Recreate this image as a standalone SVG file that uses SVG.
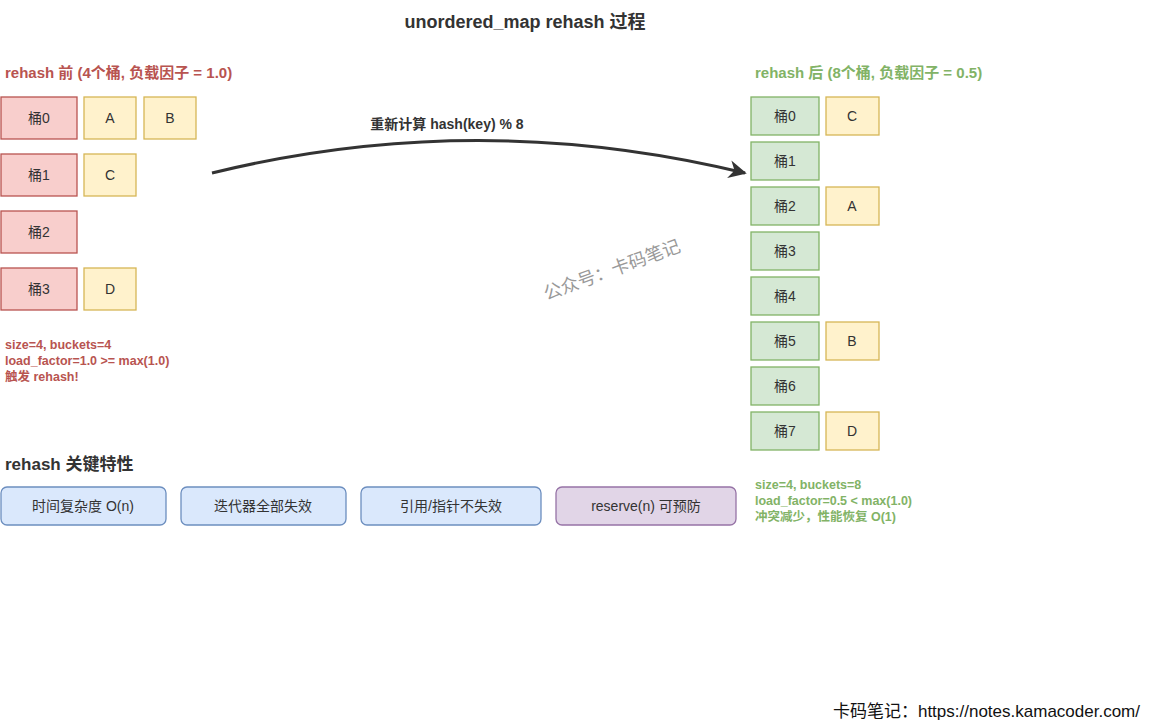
<svg xmlns="http://www.w3.org/2000/svg" width="1174" height="722" viewBox="0 0 1174 722">
<style>
text{font-family:"Liberation Sans","Noto Sans CJK SC",sans-serif;}
.r rect{fill:#f8cecc;stroke:#b85450;stroke-width:1.3}
.y rect{fill:#fff2cc;stroke:#d6b656;stroke-width:1.3}
.g rect{fill:#d5e8d4;stroke:#82b366;stroke-width:1.3}
.b rect{fill:#dae8fc;stroke:#6c8ebf;stroke-width:1.3}
.p rect{fill:#e1d5e7;stroke:#9673a6;stroke-width:1.3}
.n text{font-size:14px;fill:#333;text-anchor:middle;dominant-baseline:central}
.h{font-size:15px;font-weight:bold}
.s{font-size:12.5px;font-weight:bold}
</style>
<defs><marker id="ah" viewBox="0 0 10 10" refX="9" refY="5" markerWidth="6" markerHeight="6" orient="auto"><path d="M0,0L10,5L0,10L3,5z" fill="#333"/></marker></defs>
<rect width="1174" height="722" fill="#fff"/>
<text x="525" y="28" text-anchor="middle" font-size="18" font-weight="bold" fill="#333">unordered_map rehash 过程</text>
<text x="5" y="78" class="h" fill="#b85450">rehash 前 (4个桶, 负载因子 = 1.0)</text>
<text x="755" y="78" class="h" fill="#82b366">rehash 后 (8个桶, 负载因子 = 0.5)</text>
<g class="n">
<g id="l0" class="r"><rect x="1" y="97" width="76" height="42"/><text x="39" y="118">桶0</text></g>
<g id="lA" class="y"><rect x="84" y="97" width="52" height="42"/><text x="110" y="118">A</text></g>
<g id="lB" class="y"><rect x="144" y="97" width="52" height="42"/><text x="170" y="118">B</text></g>
<g id="l1" class="r"><rect x="1" y="154" width="76" height="42"/><text x="39" y="175">桶1</text></g>
<g id="lC" class="y"><rect x="84" y="154" width="52" height="42"/><text x="110" y="175">C</text></g>
<g id="l2" class="r"><rect x="1" y="211" width="76" height="42"/><text x="39" y="232">桶2</text></g>
<g id="l3" class="r"><rect x="1" y="268" width="76" height="42"/><text x="39" y="289">桶3</text></g>
<g id="lD" class="y"><rect x="84" y="268" width="52" height="42"/><text x="110" y="289">D</text></g>
<g id="r0" class="g"><rect x="751" y="97" width="68" height="38"/><text x="785" y="116">桶0</text></g>
<g id="rC" class="y"><rect x="826" y="97" width="53" height="38"/><text x="852" y="116">C</text></g>
<g id="r1" class="g"><rect x="751" y="142" width="68" height="38"/><text x="785" y="161">桶1</text></g>
<g id="r2" class="g"><rect x="751" y="187" width="68" height="38"/><text x="785" y="206">桶2</text></g>
<g id="rA" class="y"><rect x="826" y="187" width="53" height="38"/><text x="852" y="206">A</text></g>
<g id="r3" class="g"><rect x="751" y="232" width="68" height="38"/><text x="785" y="251">桶3</text></g>
<g id="r4" class="g"><rect x="751" y="277" width="68" height="38"/><text x="785" y="296">桶4</text></g>
<g id="r5" class="g"><rect x="751" y="322" width="68" height="38"/><text x="785" y="341">桶5</text></g>
<g id="rB" class="y"><rect x="826" y="322" width="53" height="38"/><text x="852" y="341">B</text></g>
<g id="r6" class="g"><rect x="751" y="367" width="68" height="38"/><text x="785" y="386">桶6</text></g>
<g id="r7" class="g"><rect x="751" y="412" width="68" height="38"/><text x="785" y="431">桶7</text></g>
<g id="rD" class="y"><rect x="826" y="412" width="53" height="38"/><text x="852" y="431">D</text></g>
<g id="k1" class="b"><rect x="1" y="487" width="165" height="38" rx="6"/><text x="83" y="506">时间复杂度 O(n)</text></g>
<g id="k2" class="b"><rect x="181" y="487" width="165" height="38" rx="6"/><text x="263" y="506">迭代器全部失效</text></g>
<g id="k3" class="b"><rect x="361" y="487" width="180" height="38" rx="6"/><text x="451" y="506">引用/指针不失效</text></g>
<g id="k4" class="p"><rect x="556" y="487" width="180" height="38" rx="6"/><text x="646" y="506">reserve(n) 可预防</text></g>
</g>
<g id="connectors"><path d="M212,173 Q478,108 745,173" fill="none" stroke="#333" stroke-width="3" marker-end="url(#ah)"/></g>
<text x="447" y="129" text-anchor="middle" font-size="14" font-weight="bold" fill="#333">重新计算 hash(key) % 8</text>
<text class="s" fill="#b85450"><tspan x="5" y="349">size=4, buckets=4</tspan><tspan x="5" y="365">load_factor=1.0 &gt;= max(1.0)</tspan><tspan x="5" y="381">触发 rehash!</tspan></text>
<text class="s" fill="#82b366"><tspan x="755" y="489">size=4, buckets=8</tspan><tspan x="755" y="505">load_factor=0.5 &lt; max(1.0)</tspan><tspan x="755" y="521">冲突减少，性能恢复 O(1)</tspan></text>
<text x="5" y="470" font-size="17" font-weight="bold" fill="#333">rehash 关键特性</text>
<text x="612" y="276" text-anchor="middle" font-size="18" fill="#999" transform="rotate(-20 612 270)">公众号：卡码笔记</text>
<text x="1140" y="717" text-anchor="end" font-size="17" fill="#111">卡码笔记：https://notes.kamacoder.com/</text>
</svg>
